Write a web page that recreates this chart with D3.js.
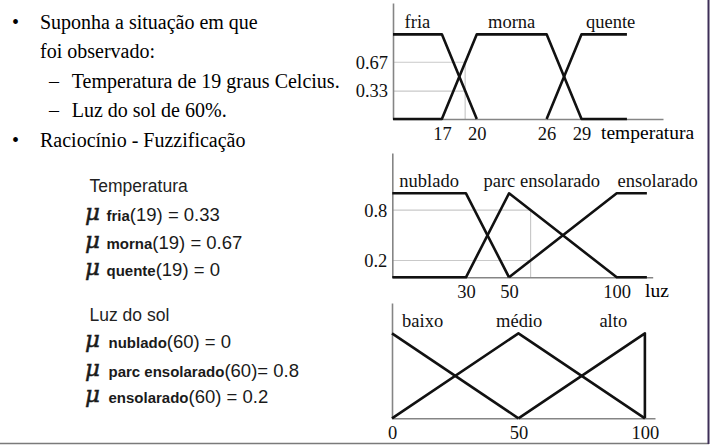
<!DOCTYPE html>
<html><head><meta charset="utf-8">
<script src="https://cdn.jsdelivr.net/npm/d3@7"></script>
<style>html,body{margin:0;padding:0;background:#fff;}svg{display:block;}</style>
</head><body>
<script>
// ---------- DATA ----------
const bullets = [
  {kind:"bullet", text:"Suponha a situação em que"},
  {kind:"cont", text:"foi observado:"},
  {kind:"dash", text:"Temperatura de 19 graus Celcius."},
  {kind:"dash", text:"Luz do sol de 60%."},
  {kind:"bullet", text:"Raciocínio - Fuzzificação"}
];
const tempTitle = "Temperatura";
const tempNames = ["fria","morna","quente"];
const tempResults = ["(19) = 0.33","(19) = 0.67","(19) = 0"];
const luzTitle = "Luz do sol";
const luzNames = ["nublado","parc ensolarado","ensolarado"];
const luzResults = ["(60) = 0","(60)= 0.8","(60) = 0.2"];

// Temperature fuzzy sets
const tempDomain = [12.8, 36];
const tempX = {fria:[12.8,17,20], morna:[12.8,17,20,26,29,32.9], quente:[26,29,32.9]};
const tempY = {fria:[1,1,0], morna:[0,0,1,1,0,0], quente:[0,1,1]};
const tempLabelAt = [14.9, 23, 31.5];
const tempTicks = [17,20,26,29];
const tempGrid = [0.67,0.33];
const tempObs = 19;

// Light fuzzy sets
const luzDomain = [-4.2, 116.7];
const luzX = {nublado:[-4.2,30,50], parc:[-4.2,30,50,100,114], ensolarado:[50,100,114]};
const luzY = {nublado:[1,1,0], parc:[0,0,1,0,0], ensolarado:[0,1,1]};
const luzLabelAt = [12.9, 65.2, 119];
const luzTicks = [30,50,100];
const luzGrid = [0.8,0.2];
const luzObs = 60;

// Output sets
const outNames = ["baixo","médio","alto"];
const outDomain = [0, 104];
const outX = {baixo:[0,50], medio:[0,50,100], alto:[50,100,100]};
const outY = {baixo:[1,0], medio:[0,1,0], alto:[0,1,0]};
const outLabelAt = [12.1, 50.3, 87.5];
const outTicks = [0,50,100];

// ---------- DRAW ----------
const W=710,H=446;
const svg=d3.select("body").append("svg").attr("width",W).attr("height",H);
const serif="'Liberation Serif','Times New Roman',serif";
const sans="'Liberation Sans',Arial,sans-serif";

// left bullet text
const lineYs=[29.3,58.3,88.3,116.7,146.7];
bullets.forEach((b,i)=>{
  const y=lineYs[i];
  if(b.kind==="bullet") svg.append("text").attr("x",12).attr("y",y).attr("font-family",serif).attr("font-size",20).text("•");
  if(b.kind==="dash") svg.append("text").attr("x",49).attr("y",y).attr("font-family",serif).attr("font-size",20).text("–");
  svg.append("text").attr("x",b.kind==="dash"?71.7:40).attr("y",y)
    .attr("font-family",serif).attr("font-size",20).attr("fill","#000").text(b.text);
});

function formulaBlock(title,names,results,titleY,ys,nameX){
  svg.append("text").attr("x",89.5).attr("y",titleY).attr("font-family",sans).attr("font-size",17.5).attr("fill","#222").text(title);
  names.forEach((n,i)=>{
    svg.append("text").attr("x",85).attr("y",ys[i]-1).attr("fill","#1a1a1a").attr("stroke","#1a1a1a").attr("stroke-width",0.5)
      .attr("font-family","'DejaVu Serif',serif").attr("font-style","italic").attr("font-size",23).text("μ");
    const t=svg.append("text").attr("x",nameX).attr("y",ys[i]).attr("fill","#1a1a1a");
    t.append("tspan").attr("font-family",sans).attr("font-weight","bold").attr("font-size",15).text(n);
    t.append("tspan").attr("font-family",sans).attr("font-size",18.5).text(results[i]);
  });
}
formulaBlock(tempTitle,tempNames,tempResults,191.7,[221,249.3,275.5],106.5);
formulaBlock(luzTitle,luzNames,luzResults,321,[348.3,376.7,403.3],108.5);

// chart helper
function chart(cfg){
  const x=d3.scaleLinear().domain(cfg.xDomain).range(cfg.xRange);
  const y=d3.scaleLinear().domain([0,cfg.yMax]).range(cfg.yRange);
  const g=svg.append("g");
  if(cfg.grid){
    cfg.grid.forEach(v=>{
      g.append("line").attr("x1",x(cfg.xDomain[0])).attr("x2",x(cfg.obs)).attr("y1",y(v)).attr("y2",y(v))
        .attr("stroke","#c9c9c9").attr("stroke-width",1.2);
    });
    g.append("line").attr("x1",x(cfg.obs)).attr("x2",x(cfg.obs)).attr("y1",y(0)).attr("y2",y(d3.max(cfg.grid)))
      .attr("stroke","#c9c9c9").attr("stroke-width",1.2);
  }
  const ax=g.append("g").attr("transform",`translate(0,${y(0)})`)
    .call(d3.axisBottom(x).tickValues(cfg.ticks).tickSize(0).tickSizeOuter(0).tickPadding(7.5).tickFormat(d3.format("d")));
  const ay=g.append("g").attr("transform",`translate(${x(cfg.xDomain[0])},0)`)
    .call(d3.axisLeft(y).tickValues(cfg.grid||[]).tickSize(0).tickSizeOuter(0).tickPadding(5).tickFormat(d=>String(d)));
  [ax,ay].forEach(a=>{
    a.attr("font-family",serif).attr("font-size",18.5);
    a.select(".domain").attr("stroke","#858585").attr("stroke-width",1.6);
    a.selectAll("text").attr("fill","#111");
  });
  ay.selectAll("text").attr("dy","0.32em");
  if(cfg.axisLabel){
    g.append("text").attr("x",cfg.axisLabelX).attr("y",y(0)+20).attr("font-family",serif).attr("font-size",19.5).attr("fill","#000").text(cfg.axisLabel);
  }
  const line=d3.line().x(d=>x(d[0])).y(d=>y(d[1]));
  cfg.series.forEach(s=>{
    const pts=s.xs.map((v,i)=>[v,s.ys[i]]);
    g.append("path").attr("d",line(pts)).attr("fill","none").attr("stroke","#111").attr("stroke-width",2.6).attr("stroke-linejoin","round");
  });
  cfg.names.forEach((n,i)=>{
    g.append("text").attr("x",x(cfg.labelAt[i])).attr("y",y(1)-6).attr("text-anchor","middle")
      .attr("font-family",serif).attr("font-size",18.5).attr("fill","#111").text(n);
  });
}

chart({xDomain:tempDomain,xRange:[393,663],yMax:1.37,yRange:[119,3],ticks:tempTicks,grid:tempGrid,obs:tempObs,
  axisLabel:"temperatura",axisLabelX:601,names:tempNames,labelAt:tempLabelAt,
  series:[{xs:tempX.fria,ys:tempY.fria},{xs:tempX.morna,ys:tempY.morna},{xs:tempX.quente,ys:tempY.quente}]});
chart({xDomain:luzDomain,xRange:[392.3,652.7],yMax:1.48,yRange:[277.3,153],ticks:luzTicks,grid:luzGrid,obs:luzObs,
  axisLabel:"luz",axisLabelX:645,names:luzNames,labelAt:luzLabelAt,
  series:[{xs:luzX.nublado,ys:luzY.nublado},{xs:luzX.parc,ys:luzY.parc},{xs:luzX.ensolarado,ys:luzY.ensolarado}]});
chart({xDomain:outDomain,xRange:[392,655],yMax:1.357,yRange:[418.3,303],ticks:outTicks,grid:null,
  names:outNames,labelAt:outLabelAt,
  series:[{xs:outX.baixo,ys:outY.baixo},{xs:outX.medio,ys:outY.medio},{xs:outX.alto,ys:outY.alto}]});

// frame lines
svg.append("line").attr("x1",0).attr("x2",709).attr("y1",443.5).attr("y2",443.5).attr("stroke","#7a7a7a").attr("stroke-width",1.5);
svg.append("line").attr("x1",708.5).attr("x2",708.5).attr("y1",0).attr("y2",444).attr("stroke","#3e2f58").attr("stroke-width",2);
</script>
</body></html>
